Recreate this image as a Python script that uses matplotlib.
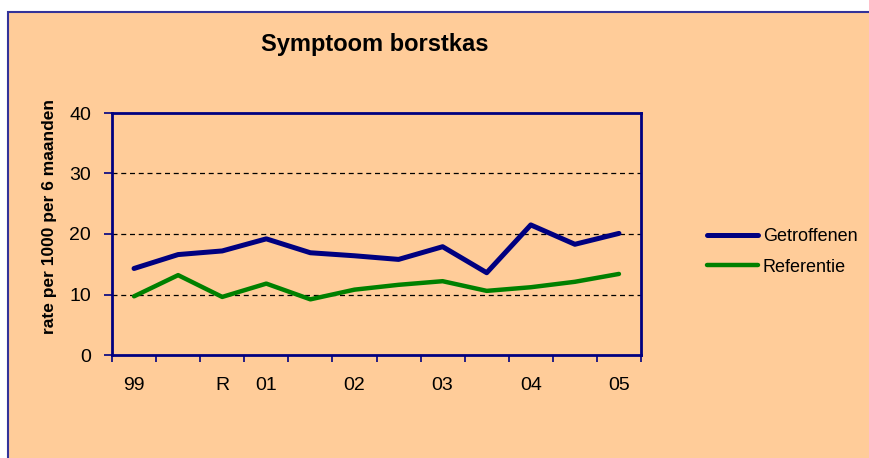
import matplotlib
matplotlib.use("Agg")
import matplotlib.pyplot as plt
from matplotlib.patches import Rectangle

plt.rcParams["font.family"] = ["Liberation Sans", "DejaVu Sans"]

labels = ["99", "", "R", "01", "", "02", "", "03", "", "04", "", "05"]
getroffenen = [14.3, 16.6, 17.2, 19.2, 16.9, 16.4, 15.8, 17.9, 13.6, 21.5, 18.3, 20.1]
referentie = [9.7, 13.2, 9.6, 11.8, 9.2, 10.8, 11.6, 12.2, 10.6, 11.2, 12.1, 13.4]

W, H = 869, 458
peach = "#FFCC99"
navy = "#000080"

fig = plt.figure(figsize=(W / 100, H / 100), dpi=100)
fig.patch.set_facecolor("white")

# chart area background with border (right/bottom edges fall outside the image)
fig.patches.append(Rectangle((8 / W, -0.1), 1.2, (H - 12) / H + 0.1,
                             transform=fig.transFigure, facecolor=peach,
                             edgecolor="#333399", linewidth=1.5, zorder=-10))

ax = fig.add_axes([112 / W, (H - 355) / H, (641 - 112) / W, (355 - 113) / H])
ax.set_facecolor(peach)

x = list(range(len(labels)))
ax.plot(x, getroffenen, color=navy, linewidth=3.6, solid_capstyle="round",
        label="Getroffenen", zorder=3)
ax.plot(x, referentie, color="#008000", linewidth=3.2, solid_capstyle="round",
        label="Referentie", zorder=3)

ax.set_xlim(-0.5, len(labels) - 0.5)
ax.set_ylim(0, 40)
ax.set_yticks([0, 10, 20, 30, 40])
for v in [10, 20, 30]:
    ax.axhline(v, color="black", linewidth=0.9, linestyle=(0, (4, 3)), zorder=1)

ax.set_xticks([i - 0.5 for i in range(len(labels) + 1)])
ax.set_xticklabels([])
ax.set_xticks(x, minor=True)
ax.set_xticklabels(labels, minor=True)
ax.tick_params(axis="x", which="major", direction="out", length=5, width=1.2, color=navy)
ax.tick_params(axis="x", which="minor", length=0, pad=16, labelsize=14)
ax.tick_params(axis="y", direction="out", length=6, width=1.2, color=navy,
               labelsize=14, pad=9)

for s in ax.spines.values():
    s.set_color(navy)
    s.set_linewidth(2)

fig.text(375 / W, 1 - 44 / H, "Symptoom borstkas", ha="center", va="center",
         fontsize=17, fontweight="bold")
fig.text(50 / W, 1 - 216 / H, "rate per 1000 per 6 maanden", ha="center",
         va="center", rotation=90, fontsize=12.5, fontweight="bold")

fig.legend(loc="upper left", bbox_to_anchor=(707 / W, 1 - 228 / H), frameon=False,
           fontsize=13, handlelength=2.8, handletextpad=0.3, borderpad=0,
           borderaxespad=0, labelspacing=0.75)

fig.savefig("out.png", dpi=100, facecolor=fig.get_facecolor())
